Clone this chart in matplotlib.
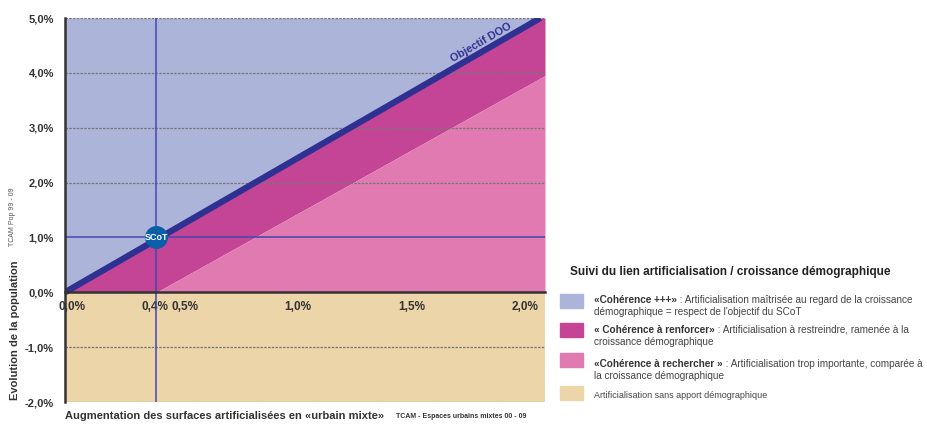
import matplotlib.pyplot as plt
import matplotlib.patches as mpatches
import matplotlib.transforms as mtransforms
import numpy as np

plt.rcParams['font.family'] = ['Liberation Sans', 'DejaVu Sans']

# donnees du graphique (en %)
x_min, x_max = 0.0, 2.1
y_min, y_max = -2.0, 5.0
doo_x = [0.0, 2.08]          # droite "Objectif DOO"
doo_y = [0.0, 5.0]
low_x = [0.4, 2.1]           # limite coherence a renforcer / a rechercher
low_y = [0.0, 3.95]
scot_x, scot_y = 0.4, 1.0
xticks = [0.0, 0.4, 0.5, 1.0, 1.5, 2.0]
xtick_labels = ["0,0%", "0,4%", "0,5%", "1,0%", "1,5%", "2,0%"]
yticks = [-2, -1, 0, 1, 2, 3, 4, 5]
ytick_labels = ["-2,0%", "-1,0%", "0,0%", "1,0%", "2,0%", "3,0%", "4,0%", "5,0%"]

c_bleu = "#adb4da"
c_magenta = "#c44596"
c_rose = "#e07ab0"
c_beige = "#ecd5a9"
c_doo = "#2e3192"
c_ligne = "#4447b0"

fig = plt.figure(figsize=(9.28, 4.24), dpi=100)
ax = fig.add_axes([65/928, 1-402/424, 480/928, 384/424])
ax.set_xlim(x_min, x_max)
ax.set_ylim(y_min, y_max)

xs = np.linspace(x_min, x_max, 400)
doo = np.interp(xs, doo_x, doo_y)
doo = np.where(xs > doo_x[1], y_max, doo)
low = np.clip(np.interp(xs, low_x, low_y, left=0.0), 0, None)

ax.fill_between(xs, doo, y_max, color=c_bleu, lw=0)
ax.fill_between(xs, low, doo, color=c_magenta, lw=0)
ax.fill_between(xs, 0, low, color=c_rose, lw=0)
ax.fill_between(xs, y_min, 0, color=c_beige, lw=0)

# grille pointillee
for y in [-2, -1, 2, 3, 4, 5]:
    ax.axhline(y, color="#777777", lw=0.9, ls=(0, (2, 1)), zorder=2)

# reperes SCoT
ax.axvline(scot_x, color=c_ligne, lw=1.1, zorder=3)
ax.axhline(scot_y, color=c_ligne, lw=1.1, zorder=3)

ax.plot(doo_x, doo_y, color=c_doo, lw=4.5, solid_capstyle="butt", zorder=4)
ax.text(1.82, 4.56, "Objectif DOO", rotation=30, color=c_doo, fontsize=7.8,
        fontweight="bold", ha="center", va="center", zorder=5)

ax.scatter([scot_x], [scot_y], s=240, color="#0b5ea8", zorder=6)
ax.text(scot_x, scot_y, "SCoT", color="white", fontsize=6.5, fontweight="bold",
        ha="center", va="center", zorder=7)

# axes
for s in ["top", "right"]:
    ax.spines[s].set_visible(False)
ax.spines["left"].set_color("#333333")
ax.spines["left"].set_linewidth(1.8)
ax.spines["bottom"].set_position(("data", 0))
ax.spines["bottom"].set_color("#333333")
ax.spines["bottom"].set_linewidth(1.8)
ax.spines["left"].set_zorder(8)
ax.spines["bottom"].set_zorder(8)

ax.set_xticks(xticks)
ax.set_xticklabels(xtick_labels, fontsize=8.5, fontweight="bold", color="#333333")
ax.set_yticks(yticks)
ax.set_yticklabels(ytick_labels, fontsize=8, fontweight="bold", color="#333333")
ax.tick_params(axis="x", length=0, pad=6)
ax.tick_params(axis="y", length=0, pad=8)

# petits decalages des etiquettes comme sur l'original
decalages = [0.07, -0.01, 0.06, 0.04, 0.04, 0.03]
for lab, dx in zip(ax.get_xticklabels(), decalages):
    lab.set_transform(lab.get_transform() + mtransforms.ScaledTranslation(dx, 0, fig.dpi_scale_trans))

fig.text(15/928, 1-330/424, "Evolution de la population", rotation=90, fontsize=8,
         fontweight="bold", color="#333333", ha="center", va="center")
fig.text(13/928, 1-217/424, "TCAM Pop 99 - 09", rotation=90, fontsize=5,
         color="#555555", ha="center", va="center")
fig.text(65/928, 1-416/424, "Augmentation des surfaces artificialisées en «urbain mixte»",
         fontsize=8, fontweight="bold", color="#333333", ha="left", va="center")
fig.text(396/928, 1-416/424, "TCAM - Espaces urbains mixtes 00 - 09", fontsize=5,
         fontweight="bold", color="#333333", ha="left", va="center")

# legende
fig.text(570/928, 1-272/424, "Suivi du lien artificialisation / croissance démographique",
         fontsize=8.5, fontweight="bold", color="#222222", ha="left", va="center")

leg_couleurs = [c_bleu, c_magenta, c_rose, c_beige]
leg_gras = ["«Cohérence +++»", "« Cohérence à renforcer»", "«Cohérence à rechercher »", ""]
leg_suite = [" : Artificialisation maîtrisée au regard de la croissance",
             " : Artificialisation à restreindre, ramenée à la",
             " : Artificialisation trop importante, comparée à",
             "Artificialisation sans apport démographique"]
leg_ligne2 = ["démographique = respect de l'objectif du SCoT",
              "croissance démographique",
              "la croissance démographique",
              ""]
leg_patch_y = [294, 323, 353, 386]
leg_text_y = [303, 333, 367, 398]

for i in range(4):
    y0 = leg_patch_y[i]
    fig.patches.append(mpatches.Rectangle((560/928, 1-(y0+14)/424), 23/928, 14/424,
                                          color=leg_couleurs[i], transform=fig.transFigure))
    ty = 1 - leg_text_y[i]/424
    if leg_gras[i]:
        t = fig.text(594/928, ty, leg_gras[i], fontsize=7.2, fontweight="bold",
                     color="#333333", ha="left", va="baseline")
        ax.annotate(leg_suite[i], xy=(1, 0), xycoords=t, fontsize=7.2, color="#444444",
                    ha="left", va="bottom", annotation_clip=False)
        fig.text(594/928, ty - 12/424, leg_ligne2[i], fontsize=7.2, color="#444444",
                 ha="left", va="baseline")
    else:
        fig.text(594/928, ty, leg_suite[i], fontsize=6.5, color="#444444",
                 ha="left", va="baseline")

fig.savefig("out.png", dpi=100)
